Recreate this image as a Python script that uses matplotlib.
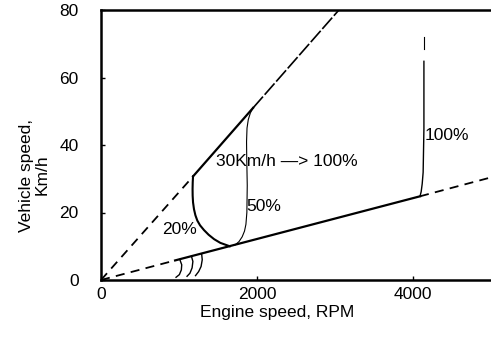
import matplotlib
matplotlib.use('Agg')
import matplotlib.pyplot as plt

# upper (low gear) line, pieces: dashed / solid / long dashes
up_dash_rpm = [0, 1180]
up_dash_kmh = [0, 30.7]
up_solid_rpm = [1180, 1950]
up_solid_kmh = [30.7, 51.0]
up_top_rpm = [1950, 3050]
up_top_kmh = [51.0, 80]

# lower (top gear) line
lo_dash1_rpm = [0, 950]
lo_dash1_kmh = [0, 5.8]
lo_solid_rpm = [950, 4090]
lo_solid_kmh = [5.8, 24.8]
lo_dash2_rpm = [4090, 5000]
lo_dash2_kmh = [24.8, 30.4]

# throttle curves
c20_rpm = [1180, 1176, 1174, 1175, 1180, 1192, 1210, 1235, 1270, 1320, 1380, 1450, 1530, 1650]
c20_kmh = [30.7, 29.0, 27.0, 25.0, 23.0, 21.0, 19.2, 17.6, 16.2, 14.8, 13.4, 12.1, 11.0, 10.0]
c50_rpm = [1950, 1915, 1888, 1872, 1866, 1868, 1875, 1870, 1858, 1840, 1810, 1770, 1720]
c50_kmh = [51.0, 49.5, 47.5, 45.0, 41.0, 36.7, 28.0, 20.0, 16.5, 14.5, 12.8, 11.4, 10.4]
c100_rpm = [4090, 4105, 4118, 4130, 4140, 4140]
c100_kmh = [24.8, 26.2, 28.5, 31.9, 44.8, 64.8]
c100_top_rpm = [4140, 4140]
c100_top_kmh = [68.5, 72.0]

# small launch arcs near the bottom
arcs_rpm = [[1010, 1035, 1030, 1005, 962],
            [1160, 1178, 1168, 1140, 1103],
            [1290, 1298, 1283, 1252, 1212]]
arcs_kmh = [[6.1, 4.5, 3.0, 1.6, 0.8],
            [7.0, 5.5, 3.6, 2.0, 1.1],
            [7.8, 6.0, 4.0, 2.5, 1.3]]

labels = ['30Km/h \u2014> 100%', '50%', '20%', '100%']
label_rpm = [1480, 1865, 790, 4150]
label_kmh = [35.2, 21.8, 14.9, 42.7]

plt.rcParams['font.family'] = ['Liberation Sans', 'DejaVu Sans']

fig = plt.figure(figsize=(4.91, 3.42), dpi=100)
ax = fig.add_axes([101/491, 62/342, 390/491, 270/342])

dash = (0, (5, 3.5))
ax.plot(up_dash_rpm, up_dash_kmh, color='k', lw=1.3, linestyle=dash)
ax.plot(up_solid_rpm, up_solid_kmh, color='k', lw=1.6)
ax.plot(up_top_rpm, up_top_kmh, color='k', lw=1.2, linestyle=(0, (9, 1.5)))
ax.plot(lo_dash1_rpm, lo_dash1_kmh, color='k', lw=1.3, linestyle=dash)
ax.plot(lo_solid_rpm, lo_solid_kmh, color='k', lw=1.6)
ax.plot(lo_dash2_rpm, lo_dash2_kmh, color='k', lw=1.3, linestyle=dash)

ax.plot(c20_rpm, c20_kmh, color='k', lw=1.5)
ax.plot(c50_rpm, c50_kmh, color='k', lw=0.8)
ax.plot(c100_rpm, c100_kmh, color='k', lw=1.0)
ax.plot(c100_top_rpm, c100_top_kmh, color='k', lw=0.8)
for xs, ys in zip(arcs_rpm, arcs_kmh):
    ax.plot(xs, ys, color='k', lw=1.0)

for t, x, y in zip(labels, label_rpm, label_kmh):
    ax.text(x, y, t, fontsize=12.5, va='center', ha='left')

ax.set_xlim(0, 5000)
ax.set_ylim(0, 80)
ax.set_xticks([0, 2000, 4000])
ax.set_yticks([0, 20, 40, 60, 80])
ax.tick_params(direction='in', length=3, width=1, labelsize=12.5)
ax.tick_params(axis='y', pad=16)
ax.tick_params(axis='x', pad=5)
for s in ['left', 'bottom', 'top']:
    ax.spines[s].set_linewidth(1.8)
ax.spines['right'].set_visible(False)

fig.text(277/491, 1 - 313/342, 'Engine speed, RPM', fontsize=12.5,
         ha='center', va='center')
fig.text(34/491, 1 - 175/342, 'Vehicle speed,\nKm/h', fontsize=12.5,
         ha='center', va='center', rotation=90, linespacing=1.05,
         multialignment='center')

plt.savefig('out.png', dpi=100)
